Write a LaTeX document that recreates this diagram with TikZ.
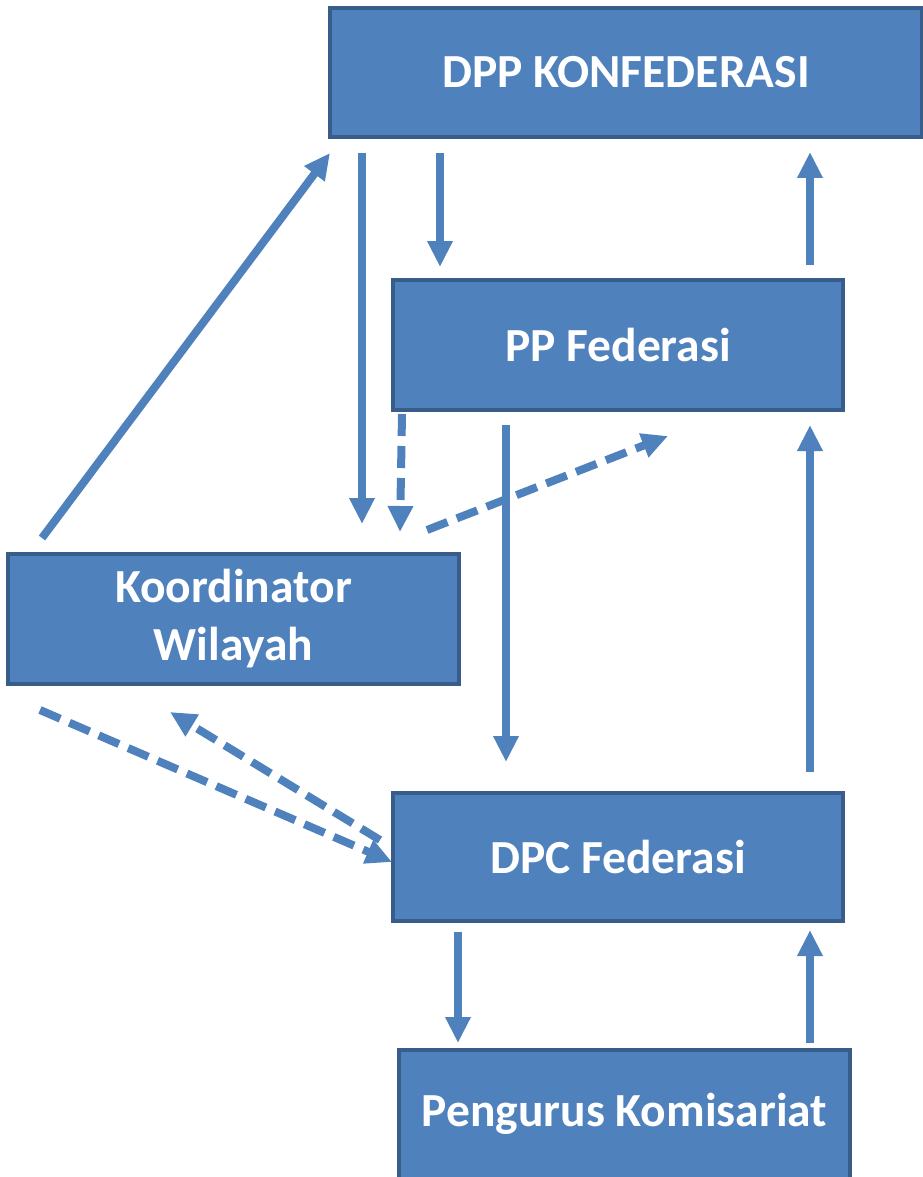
\documentclass[tikz,border=0pt]{standalone}
\usepackage{fontspec}
\setmainfont{Carlito}
\usetikzlibrary{arrows.meta}
\definecolor{boxfill}{HTML}{4F81BD}
\definecolor{boxline}{HTML}{385D8A}
\begin{document}
\begin{tikzpicture}[x=1pt,y=-1pt,
  box/.style={draw=boxline,line width=4pt,fill=boxfill,text=white,font=\fontsize{47.5}{58}\selectfont\bfseries,align=center,inner sep=0pt},
  conn/.style={draw=boxfill,line width=8pt,-{Triangle[length=26pt,width=24pt]}},
  dconn/.style={conn,dash pattern=on 22pt off 10pt}]
\useasboundingbox (0,0) rectangle (922,1177);
\node[box,minimum width=592pt,minimum height=129pt] (dpp) at (626,72.5) {DPP KONFEDERASI};
\node[box,minimum width=450pt,minimum height=130pt] (pp) at (618,345) {PP Federasi};
\node[box,minimum width=451pt,minimum height=130pt] (kw) at (233.5,619) {Koordinator\\Wilayah};
\node[box,minimum width=450pt,minimum height=128pt] (dpc) at (618,857) {DPC Federasi};
\node[box,minimum width=451pt,minimum height=129pt] (pk) at (624.5,1114) {Pengurus Komisariat};
% coordinates for connector ends
\coordinate (a1s) at (42,538);   \coordinate (a1e) at (330,153);
\coordinate (a2s) at (362,153);  \coordinate (a2e) at (362,524);
\coordinate (a3s) at (440,153);  \coordinate (a3e) at (440,267);
\coordinate (a4s) at (810,265);  \coordinate (a4e) at (810,152);
\coordinate (a5s) at (402,414);  \coordinate (a5e) at (400,532);
\coordinate (a6s) at (427,530);  \coordinate (a6e) at (668,436);
\coordinate (a7s) at (506,425);  \coordinate (a7e) at (506,762);
\coordinate (a8s) at (810,772);  \coordinate (a8e) at (810,425);
\coordinate (a9s) at (40,710);   \coordinate (a9e) at (392,862);
\coordinate (a10s) at (380,840); \coordinate (a10e) at (170,712);
\coordinate (a11s) at (458,932); \coordinate (a11e) at (458,1043);
\coordinate (a12s) at (810,1043);\coordinate (a12e) at (810,930);
\path[conn] (a1s) -- (a1e);
\path[conn] (a2s) -- (a2e);
\path[conn] (a3s) -- (a3e);
\path[conn] (a4s) -- (a4e);
\path[dconn] (a5s) -- (a5e);
\path[dconn] (a6s) -- (a6e);
\path[conn] (a7s) -- (a7e);
\path[conn] (a8s) -- (a8e);
\path[dconn] (a9s) -- (a9e);
\path[dconn] (a10s) -- (a10e);
\path[conn] (a11s) -- (a11e);
\path[conn] (a12s) -- (a12e);
\end{tikzpicture}
\end{document}
